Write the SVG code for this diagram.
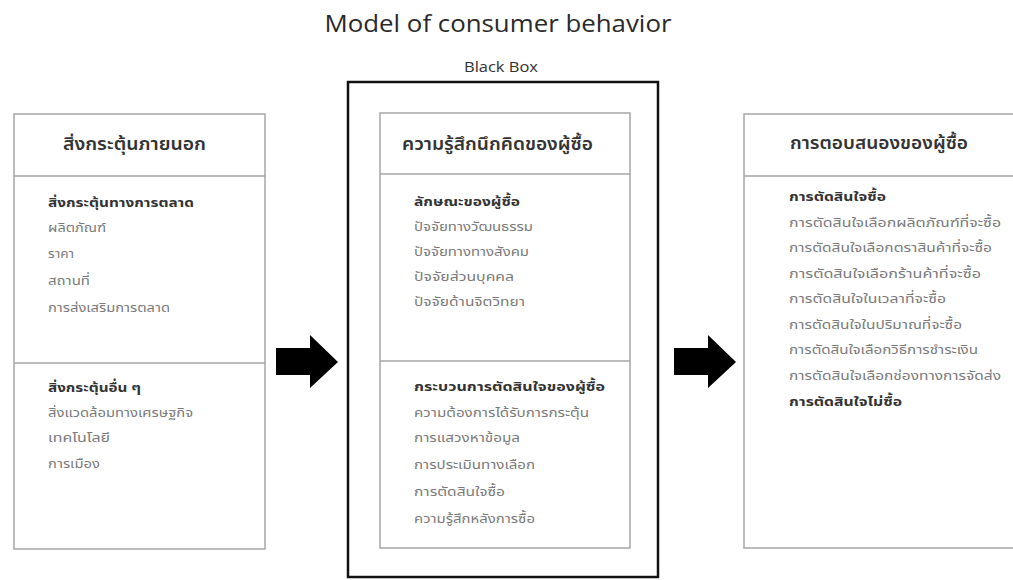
<svg xmlns="http://www.w3.org/2000/svg" width="1013" height="580" viewBox="0 0 1013 580">
<style>
.box{fill:#fff;stroke:#a6a6a6;stroke-width:1.5}
.div{stroke:#a6a6a6;stroke-width:1.5}
.hd{font-family:"Noto Sans Thai","Tahoma","Loma","Garuda","DejaVu Sans",sans-serif;font-size:17px;font-weight:600;fill:#333}
.b{font-family:"Noto Sans Thai","Tahoma","Loma","Garuda","DejaVu Sans",sans-serif;font-size:13px;font-weight:bold;fill:#333}
.t{font-family:"Noto Sans Thai","Tahoma","Loma","Garuda","DejaVu Sans",sans-serif;font-size:13px;fill:#7a7a7a}
.arrow{fill:#000}
</style>
<rect width="1013" height="580" fill="#fff"/>
<text x="498" y="32" text-anchor="middle" font-family="Open Sans, Liberation Sans, sans-serif" font-size="23" fill="#2a2a2a" textLength="347" lengthAdjust="spacingAndGlyphs">Model of consumer behavior</text>
<text x="501" y="72" text-anchor="middle" font-family="Open Sans, Liberation Sans, sans-serif" font-size="14" fill="#333" textLength="74" lengthAdjust="spacingAndGlyphs">Black Box</text>

<g id="blackbox">
<rect x="348" y="82" width="310" height="495" fill="none" stroke="#111" stroke-width="2.5"/>
</g>

<g id="external">
<rect class="box" x="14" y="114" width="251" height="435"/>
<line class="div" x1="14" y1="176" x2="265" y2="176"/>
<line class="div" x1="14" y1="363" x2="265" y2="363"/>
<text class="hd" x="63" y="150" textLength="143" lengthAdjust="spacingAndGlyphs">สิ่งกระตุ้นภายนอก</text>
<text class="b" x="48" y="207" textLength="146" lengthAdjust="spacingAndGlyphs">สิ่งกระตุ้นทางการตลาด</text>
<text class="t" x="48" y="232" textLength="58" lengthAdjust="spacingAndGlyphs">ผลิตภัณฑ์</text>
<text class="t" x="48" y="258" textLength="26" lengthAdjust="spacingAndGlyphs">ราคา</text>
<text class="t" x="48" y="285" textLength="42" lengthAdjust="spacingAndGlyphs">สถานที่</text>
<text class="t" x="48" y="312" textLength="122" lengthAdjust="spacingAndGlyphs">การส่งเสริมการตลาด</text>
<text class="b" x="48" y="392" textLength="93" lengthAdjust="spacingAndGlyphs">สิ่งกระตุ้นอื่น ๆ</text>
<text class="t" x="48" y="417" textLength="145" lengthAdjust="spacingAndGlyphs">สิ่งแวดล้อมทางเศรษฐกิจ</text>
<text class="t" x="48" y="442" textLength="62" lengthAdjust="spacingAndGlyphs">เทคโนโลยี</text>
<text class="t" x="48" y="468" textLength="52" lengthAdjust="spacingAndGlyphs">การเมือง</text>
</g>

<g id="buyer">
<rect class="box" x="380" y="113" width="250" height="435"/>
<line class="div" x1="380" y1="174" x2="630" y2="174"/>
<line class="div" x1="380" y1="361" x2="630" y2="361"/>
<text class="hd" x="402" y="150" textLength="191" lengthAdjust="spacingAndGlyphs">ความรู้สึกนึกคิดของผู้ซื้อ</text>
<text class="b" x="414" y="206" textLength="106" lengthAdjust="spacingAndGlyphs">ลักษณะของผู้ซื้อ</text>
<text class="t" x="414" y="231" textLength="119" lengthAdjust="spacingAndGlyphs">ปัจจัยทางวัฒนธรรม</text>
<text class="t" x="414" y="256" textLength="115" lengthAdjust="spacingAndGlyphs">ปัจจัยทางทางสังคม</text>
<text class="t" x="414" y="281" textLength="100" lengthAdjust="spacingAndGlyphs">ปัจจัยส่วนบุคคล</text>
<text class="t" x="414" y="306" textLength="111" lengthAdjust="spacingAndGlyphs">ปัจจัยด้านจิตวิทยา</text>
<text class="b" x="414" y="391" textLength="191" lengthAdjust="spacingAndGlyphs">กระบวนการตัดสินใจของผู้ซื้อ</text>
<text class="t" x="414" y="417" textLength="175" lengthAdjust="spacingAndGlyphs">ความต้องการได้รับการกระตุ้น</text>
<text class="t" x="414" y="442" textLength="106" lengthAdjust="spacingAndGlyphs">การแสวงหาข้อมูล</text>
<text class="t" x="414" y="469" textLength="121" lengthAdjust="spacingAndGlyphs">การประเมินทางเลือก</text>
<text class="t" x="414" y="496" textLength="91" lengthAdjust="spacingAndGlyphs">การตัดสินใจซื้อ</text>
<text class="t" x="414" y="523" textLength="121" lengthAdjust="spacingAndGlyphs">ความรู้สึกหลังการซื้อ</text>
</g>

<g id="response">
<rect class="box" x="744" y="114" width="280" height="434"/>
<line class="div" x1="744" y1="176" x2="1013" y2="176"/>
<text class="hd" x="790" y="149" textLength="178" lengthAdjust="spacingAndGlyphs">การตอบสนองของผู้ซื้อ</text>
<text class="b" x="789" y="201" textLength="97" lengthAdjust="spacingAndGlyphs">การตัดสินใจซื้อ</text>
<text class="t" x="789" y="226.5" textLength="212" lengthAdjust="spacingAndGlyphs">การตัดสินใจเลือกผลิตภัณฑ์ที่จะซื้อ</text>
<text class="t" x="789" y="252" textLength="203" lengthAdjust="spacingAndGlyphs">การตัดสินใจเลือกตราสินค้าที่จะซื้อ</text>
<text class="t" x="789" y="277.5" textLength="192" lengthAdjust="spacingAndGlyphs">การตัดสินใจเลือกร้านค้าที่จะซื้อ</text>
<text class="t" x="789" y="303" textLength="157" lengthAdjust="spacingAndGlyphs">การตัดสินใจในเวลาที่จะซื้อ</text>
<text class="t" x="789" y="328.5" textLength="173" lengthAdjust="spacingAndGlyphs">การตัดสินใจในปริมาณที่จะซื้อ</text>
<text class="t" x="789" y="354" textLength="189" lengthAdjust="spacingAndGlyphs">การตัดสินใจเลือกวิธีการชำระเงิน</text>
<text class="t" x="789" y="379.5" textLength="212" lengthAdjust="spacingAndGlyphs">การตัดสินใจเลือกช่องทางการจัดส่ง</text>
<text class="b" x="789" y="406" textLength="113" lengthAdjust="spacingAndGlyphs">การตัดสินใจไม่ซื้อ</text>
</g>

<g id="connectors">
<polygon class="arrow" points="276,348 310,348 310,335 338,362 310,388 310,375 276,375"/>
<polygon class="arrow" points="674,348 708,348 708,335 736,362 708,388 708,375 674,375"/>
</g>
</svg>
